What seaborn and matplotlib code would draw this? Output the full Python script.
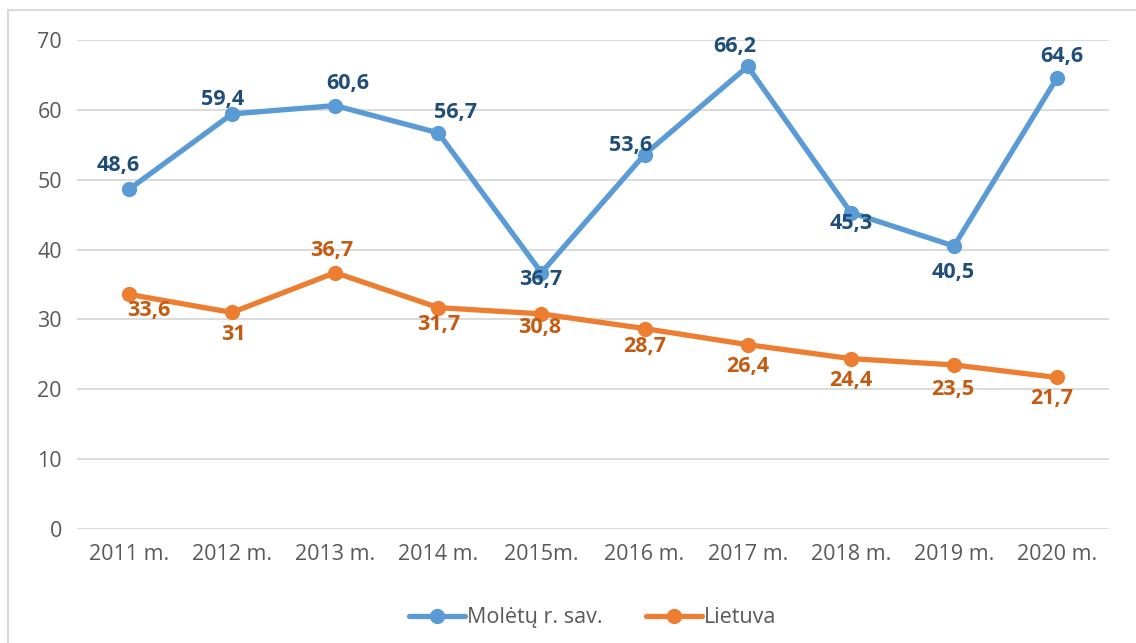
import matplotlib.pyplot as plt
import pandas as pd
import seaborn as sns

years = ["2011 m.", "2012 m.", "2013 m.", "2014 m.", "2015m.",
         "2016 m.", "2017 m.", "2018 m.", "2019 m.", "2020 m."]
moletai = [48.6, 59.4, 60.6, 56.7, 36.7, 53.6, 66.2, 45.3, 40.5, 64.6]
lietuva = [33.6, 31, 36.7, 31.7, 30.8, 28.7, 26.4, 24.4, 23.5, 21.7]
series_names = ["Molėtų r. sav.", "Lietuva"]

# label offsets in pixels (dx, dy), dy positive = up
moletai_off = [(-11, 24), (-9, 14), (13, 22), (17, 20), (-1, -7),
               (-14, 9), (-13, 20), (0, -11), (-1, -26), (5, 21)]
lietuva_off = [(20, -16), (1, -22), (-3, 22), (0, -17), (-2, -14),
               (0, -18), (0, -22), (0, -22), (-1, -25), (-5, -21)]

blue, orange = "#5B9BD5", "#ED7D31"
blue_txt, orange_txt = "#1F4E79", "#C55A11"

df = pd.DataFrame({
    "pos": list(range(len(years))) * 2,
    "value": moletai + lietuva,
    "series": [series_names[0]] * len(years) + [series_names[1]] * len(years),
})

sns.set_style("white")
plt.rcParams["font.family"] = ["Open Sans", "DejaVu Sans"]

fig = plt.figure(figsize=(11.36, 6.43), dpi=100)
ax = fig.add_axes([0.068, 0.177, 0.908, 0.761])

sns.lineplot(data=df, x="pos", y="value", hue="series",
             palette=[blue, orange], marker="o", markersize=11,
             markeredgewidth=0, linewidth=3.8, ax=ax)

for vals, offs, col in [(moletai, moletai_off, blue_txt),
                        (lietuva, lietuva_off, orange_txt)]:
    for i, (v, (dx, dy)) in enumerate(zip(vals, offs)):
        ax.annotate(f"{v:g}".replace(".", ","), (i, v), xytext=(dx, dy),
                    textcoords="offset pixels", ha="center", va="center",
                    fontsize=15.5, fontweight="bold", color=col)

ax.set_xlim(-0.5, len(years) - 0.5)
ax.set_ylim(0, 70)
ax.set_yticks(range(0, 71, 10))
ax.set_xticks(range(len(years)), years)
ax.grid(axis="y", color="#D9D9D9", linewidth=1.3)
ax.set_axisbelow(True)
for s in ax.spines.values():
    s.set_visible(False)
ax.tick_params(axis="both", length=0, labelsize=15.5, colors="#595959")
ax.tick_params(axis="x", pad=11)
ax.tick_params(axis="y", pad=11)
ax.set_xlabel("")
ax.set_ylabel("")

leg = ax.legend(loc="upper center", bbox_to_anchor=(0.5, -0.12), ncol=2,
                frameon=False, fontsize=15.5, handlelength=2.6,
                columnspacing=2.0, handletextpad=0.1)
for t in leg.get_texts():
    t.set_color("#595959")

# chart border (top and left edges visible in reference)
fig.add_artist(plt.Line2D([8 / 1136, 1], [1 - 10 / 643] * 2,
                          color="#D9D9D9", linewidth=1.5))
fig.add_artist(plt.Line2D([8 / 1136] * 2, [0, 1 - 10 / 643],
                          color="#D9D9D9", linewidth=1.5))

fig.savefig("out.png", dpi=100)
